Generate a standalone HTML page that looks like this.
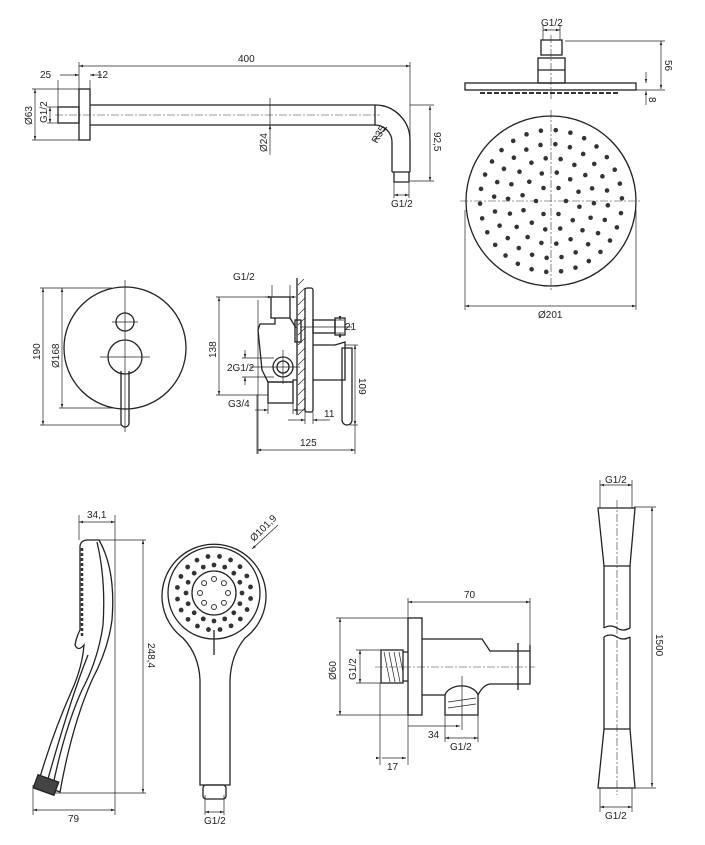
<!DOCTYPE html>
<html><head><meta charset="utf-8"><style>
html,body{margin:0;padding:0;background:#fff;}
svg{display:block;}
text{font-family:"Liberation Sans",sans-serif;font-size:10px;fill:#222;}
.o{fill:none;stroke:#222;stroke-width:1.3;}
.t{fill:none;stroke:#222;stroke-width:0.7;}
.c{fill:none;stroke:#333;stroke-width:0.6;stroke-dasharray:8 2 2 2;}
</style></head><body>
<svg width="705" height="845" viewBox="0 0 705 845" xmlns="http://www.w3.org/2000/svg">
<defs>
<marker id="a" viewBox="0 0 10 10" refX="10" refY="5" markerWidth="6" markerHeight="6" orient="auto-start-reverse"><path d="M0,2 L10,5 L0,8 z" fill="#222"/></marker>
</defs>
<g id="dims" class="t" marker-start="url(#a)" marker-end="url(#a)">
<line x1="79" y1="66" x2="410" y2="66"/>
<line x1="35" y1="89" x2="35" y2="140"/>
<line x1="50" y1="107" x2="50" y2="123"/>
<line x1="430" y1="106" x2="430" y2="181"/>
<line x1="394" y1="195" x2="409" y2="195"/>
<line x1="543" y1="30" x2="560" y2="30"/>
<line x1="661" y1="41" x2="661" y2="89"/>
<line x1="465" y1="306" x2="636" y2="306"/>
<line x1="43" y1="288" x2="43" y2="425"/>
<line x1="62" y1="288" x2="62" y2="408"/>
<line x1="219" y1="297" x2="219" y2="395"/>
<line x1="257" y1="450" x2="355" y2="450"/>
<line x1="355" y1="345" x2="355" y2="425"/>
<line x1="79" y1="522" x2="115" y2="522"/>
<line x1="143" y1="540" x2="143" y2="793"/>
<line x1="33" y1="810" x2="115" y2="810"/>
<line x1="205" y1="812" x2="224" y2="812"/>
<line x1="408" y1="602" x2="530" y2="602"/>
<line x1="340" y1="618" x2="340" y2="715"/>
<line x1="360" y1="650" x2="360" y2="683"/>
<line x1="445" y1="738" x2="478" y2="738"/>
<line x1="600" y1="485" x2="632" y2="485"/>
<line x1="652" y1="507" x2="652" y2="787"/>
<line x1="600" y1="807" x2="632" y2="807"/>
</g>
<g class="t" marker-end="url(#a)">
<line x1="60" y1="75" x2="79" y2="75"/><line x1="102" y1="75" x2="90" y2="75"/>
<line x1="270" y1="155" x2="270" y2="125"/>
<line x1="374" y1="140" x2="387" y2="127"/>
<line x1="646" y1="72" x2="646" y2="83"/><line x1="646" y1="105" x2="646" y2="91"/>
<line x1="265" y1="297" x2="272" y2="297"/><line x1="296" y1="297" x2="290" y2="297"/>
<line x1="340" y1="316" x2="340" y2="320"/><line x1="340" y1="338" x2="340" y2="333"/>
<line x1="245" y1="350" x2="245" y2="358"/><line x1="245" y1="385" x2="245" y2="377"/>
<line x1="255" y1="410" x2="268" y2="410"/><line x1="305" y1="410" x2="293" y2="410"/>
<line x1="288" y1="420" x2="305" y2="420"/><line x1="330" y1="420" x2="313" y2="420"/>
<line x1="380" y1="758" x2="380" y2="758"/>
<line x1="382" y1="758" x2="406" y2="758"/>
<line x1="408" y1="726" x2="460" y2="726"/>
<line x1="278" y1="525" x2="252" y2="549"/>
</g>
<g class="t">
<line x1="79" y1="62" x2="79" y2="90"/><line x1="410" y1="62" x2="410" y2="170"/>
<line x1="58" y1="80" x2="58" y2="107"/><line x1="90" y1="80" x2="90" y2="89"/>
<line x1="32" y1="89" x2="79" y2="89"/><line x1="32" y1="140" x2="79" y2="140"/>
<line x1="47" y1="107" x2="58" y2="107"/><line x1="47" y1="123" x2="58" y2="123"/>
<line x1="410" y1="105" x2="434" y2="105"/><line x1="410" y1="181" x2="434" y2="181"/>
<line x1="394" y1="182" x2="394" y2="198"/><line x1="409" y1="182" x2="409" y2="198"/>
<line x1="565" y1="41" x2="665" y2="41"/><line x1="636" y1="90" x2="665" y2="90"/>
<line x1="465" y1="210" x2="465" y2="310"/><line x1="636" y1="210" x2="636" y2="310"/>
<line x1="543" y1="25" x2="543" y2="40"/><line x1="560" y1="25" x2="560" y2="40"/>
<line x1="40" y1="288" x2="112" y2="288"/><line x1="40" y1="425" x2="122" y2="425"/>
<line x1="59" y1="408" x2="112" y2="408"/>
<line x1="216" y1="297" x2="270" y2="297"/><line x1="216" y1="395" x2="268" y2="395"/>
<line x1="272" y1="285" x2="272" y2="297"/><line x1="290" y1="285" x2="290" y2="297"/>
<line x1="257" y1="395" x2="257" y2="454"/><line x1="355" y1="425" x2="355" y2="454"/>
<line x1="268" y1="403" x2="268" y2="414"/><line x1="293" y1="403" x2="293" y2="414"/>
<line x1="305" y1="410" x2="305" y2="424"/><line x1="313" y1="412" x2="313" y2="424"/>
<line x1="335" y1="320" x2="344" y2="320"/><line x1="335" y1="333" x2="344" y2="333"/>
<line x1="242" y1="358" x2="274" y2="358"/><line x1="242" y1="377" x2="274" y2="377"/>
<line x1="345" y1="345" x2="358" y2="345"/><line x1="350" y1="425" x2="358" y2="425"/>
<line x1="79" y1="515" x2="79" y2="540"/><line x1="115" y1="515" x2="115" y2="815"/>
<line x1="95" y1="540" x2="146" y2="540"/><line x1="55" y1="793" x2="146" y2="793"/>
<line x1="33" y1="785" x2="33" y2="815"/>
<line x1="205" y1="795" x2="205" y2="815"/><line x1="224" y1="795" x2="224" y2="815"/>
<line x1="408" y1="598" x2="408" y2="765"/><line x1="530" y1="598" x2="530" y2="645"/>
<line x1="336" y1="618" x2="408" y2="618"/><line x1="336" y1="715" x2="408" y2="715"/>
<line x1="356" y1="650" x2="381" y2="650"/><line x1="356" y1="683" x2="381" y2="683"/>
<line x1="380" y1="683" x2="380" y2="765"/>
<line x1="445" y1="715" x2="445" y2="742"/><line x1="478" y1="715" x2="478" y2="742"/>
<line x1="462" y1="676" x2="462" y2="730"/>
<line x1="600" y1="480" x2="600" y2="508"/><line x1="632" y1="480" x2="632" y2="508"/>
<line x1="600" y1="788" x2="600" y2="812"/><line x1="632" y1="788" x2="632" y2="812"/>
<line x1="634" y1="507" x2="656" y2="507"/><line x1="634" y1="788" x2="656" y2="788"/>
</g>
<text x="238" y="62">400</text><text x="40" y="78">25</text><text x="97" y="78">12</text>
<text transform="translate(32,125) rotate(-90)">Ø63</text>
<text transform="translate(47,123) rotate(-90)">G1/2</text>
<text transform="translate(267,152) rotate(-90)">Ø24</text>
<text transform="translate(377,144) rotate(-60)">R35</text>
<text transform="translate(434,132) rotate(90)">92,5</text>
<text x="391" y="207">G1/2</text>
<text x="541" y="26">G1/2</text>
<text transform="translate(665,60) rotate(90)">56</text>
<text transform="translate(649,97) rotate(90)">8</text>
<text x="538" y="318">Ø201</text>
<text transform="translate(40,360) rotate(-90)">190</text>
<text transform="translate(59,368) rotate(-90)">Ø168</text>
<text x="233" y="280">G1/2</text>
<text transform="translate(216,358) rotate(-90)">138</text>
<text x="345" y="330">21</text>
<text x="227" y="371">2G1/2</text>
<text x="228" y="407">G3/4</text>
<text x="324" y="417">11</text>
<text transform="translate(359,378) rotate(90)">109</text>
<text x="300" y="446">125</text>
<text x="87" y="518">34,1</text>
<text transform="translate(148,643) rotate(90)">248,4</text>
<text x="68" y="822">79</text>
<text transform="translate(254,542) rotate(-45)">Ø101,9</text>
<text x="204" y="824">G1/2</text>
<text x="464" y="598">70</text>
<text transform="translate(336,680) rotate(-90)">Ø60</text>
<text transform="translate(356,680) rotate(-90)">G1/2</text>
<text x="428" y="738">34</text>
<text x="450" y="750">G1/2</text>
<text x="387" y="770">17</text>
<text x="605" y="483">G1/2</text>
<text transform="translate(656,634) rotate(90)">1500</text>
<text x="605" y="819">G1/2</text>

<g class="o">
<rect x="79" y="89" width="11" height="51"/>
<rect x="58" y="107" width="21" height="16"/>
<path d="M90,105 H375 A35,35 0 0 1 410,140 V172 M90,125 H375 A17,17 0 0 1 392,142 V172"/>
<line x1="375" y1="105" x2="375" y2="125"/>
<path d="M392,172 H410 M394,172 V182 H409 V172"/>
</g>
<line class="c" x1="55" y1="115" x2="380" y2="115"/>
<line class="t" x1="270" y1="98" x2="270" y2="130"/>

<g class="o">
<rect x="465" y="83" width="171" height="7"/>
<rect x="538" y="58" width="27" height="25"/>
<rect x="541" y="40" width="21" height="15"/>
<line x1="538" y1="70" x2="565" y2="70"/>
</g>
<path d="M480,93 H620" stroke="#333" stroke-width="2" stroke-dasharray="5 2"/>
<line class="c" x1="551" y1="35" x2="551" y2="100"/>
<circle class="o" cx="551" cy="201" r="85"/>
<line class="c" x1="460" y1="201" x2="642" y2="201"/>
<line class="c" x1="551" y1="110" x2="551" y2="292"/>
<g id="dots" fill="#333"></g>

<g class="o">
<circle cx="125" cy="348" r="61"/>
<circle cx="125" cy="322" r="9"/>
<circle cx="125" cy="357" r="17"/>
<path d="M121,371 V423 A4,4 0 0 0 129,423 V371"/>
</g>
<line class="t" x1="125" y1="280" x2="125" y2="432"/>
<line class="t" x1="112" y1="322" x2="138" y2="322"/>
<line class="t" x1="100" y1="357" x2="150" y2="357"/>

<g class="o">
<line x1="297" y1="278" x2="297" y2="415"/>
<rect x="305" y="288" width="8" height="124" rx="2"/>
<rect x="271" y="297" width="19" height="21"/>
<path d="M275,318 V324 H260 L258,330 L262,370 L268,382 H293 V380 H297 M290,318 L296,328"/>
<rect x="268" y="382" width="25" height="21"/>
<circle cx="283" cy="367" r="10"/><circle cx="283" cy="367" r="6"/>
<rect x="313" y="320" width="22" height="13"/><rect x="335" y="318" width="10" height="17"/>
<path d="M313,345 H335 L345,342 V380 H313"/>
<path d="M342,348 H352 V420 A5,5 0 0 1 342,420 Z"/>
<rect x="295" y="320" width="6" height="22"/>
</g>
<g class="t">
<path d="M298,285 l6,-6 M298,295 l7,-7 M298,305 l7,-7 M298,315 l7,-7 M298,325 l7,-7 M298,335 l7,-7 M298,345 l7,-7 M298,355 l7,-7 M298,365 l7,-7 M298,375 l7,-7 M298,385 l7,-7 M298,395 l7,-7 M298,405 l7,-7 M298,415 l7,-7"/>
<line x1="250" y1="367" x2="300" y2="367"/>
<line x1="283" y1="350" x2="283" y2="384"/>
<line x1="300" y1="327" x2="352" y2="327"/>
<line x1="258" y1="300" x2="258" y2="454"/>
</g>

<!-- HAND SHOWER SIDE -->
<g class="o">
<path d="M80,546 Q81,540 88,540 H99 Q116,570 112,620 Q108,650 92,680 Q72,725 60,792 L38,784 Q52,735 72,690 Q82,668 84,645 Q78,652 75,645 Q76,638 80,630 Z"/>
<path d="M97,542 Q106,580 103,625 Q98,660 82,690 Q64,730 52,790"/>
<path d="M88,655 Q70,700 46,786"/>
<rect x="35" y="778" width="22" height="14" transform="rotate(20 46 785)" fill="#444"/>
</g>
<path d="M82,548 V636" stroke="#333" stroke-width="2.5" stroke-dasharray="3 2"/>

<g class="o">
<path d="M183,638 A52,52 0 1 1 245,638 Q231,655 230,680 V785 H200 V680 Q199,655 183,638 Z"/>
<circle cx="214" cy="593" r="46"/>
<circle cx="214" cy="593" r="22"/>
<rect x="203" y="785" width="23" height="14" rx="3"/>
<line x1="214" y1="630" x2="214" y2="655"/>
</g>
<g id="hdots" fill="#333"></g>

<g class="o">
<rect x="408" y="618" width="14" height="97"/>
<rect x="381" y="650" width="22" height="33"/>
<path d="M403,652 H408 M403,681 H408"/>
<path d="M422,639 H482 Q486,645 490,651 H530 M422,695 H445 M478,695 Q483,685 490,684 H530 V645"/>
<path d="M445,715 V695 A17,12 0 0 1 478,695 V715 Z"/>
<line x1="518" y1="643" x2="518" y2="690"/>
</g>
<line class="c" x1="375" y1="667" x2="535" y2="667"/>
<path d="M384,652 l6,30 M389,652 l6,30 M394,652 l6,30 M399,652 l4,20 M448,702 l28,-4 M448,708 l28,-4" class="t"/>

<g class="o">
<path d="M598,508 H635 L630,566 H604 Z"/>
<path d="M604,566 V628 M630,566 V628 M604,637 V729 M630,637 V729"/>
<path d="M604,628 q6,-4 13,0 q6,4 13,0 M604,637 q6,-4 13,0 q6,4 13,0"/>
<path d="M604,729 H630 L635,788 H598 Z"/>
</g>
<line class="c" x1="617" y1="500" x2="617" y2="795"/>
</svg>
<script>
(function(){
var ns="http://www.w3.org/2000/svg",g=document.getElementById('dots');
var rings=[[15,6],[29,12],[43,18],[57,24],[71,30]];
rings.forEach(function(r,i){for(var k=0;k<r[1];k++){var a=2*Math.PI*k/r[1]+i*0.2;var c=document.createElementNS(ns,'circle');c.setAttribute('cx',551+r[0]*Math.cos(a));c.setAttribute('cy',201+r[0]*Math.sin(a));c.setAttribute('r',2.3);g.appendChild(c);}});
var h=document.getElementById('hdots');
[[28,16,0],[37,20,0.15]].forEach(function(r){for(var k=0;k<r[1];k++){var a=2*Math.PI*k/r[1]+r[2];var c=document.createElementNS(ns,'circle');c.setAttribute('cx',214+r[0]*Math.cos(a));c.setAttribute('cy',593+r[0]*Math.sin(a));c.setAttribute('r',2.4);h.appendChild(c);}});
for(var k=0;k<8;k++){var a=2*Math.PI*k/8;var c=document.createElementNS(ns,'circle');c.setAttribute('cx',214+14*Math.cos(a));c.setAttribute('cy',593+14*Math.sin(a));c.setAttribute('r',2.5);c.setAttribute('fill','none');c.setAttribute('stroke','#333');h.appendChild(c);}
})();
</script>
</body></html>
